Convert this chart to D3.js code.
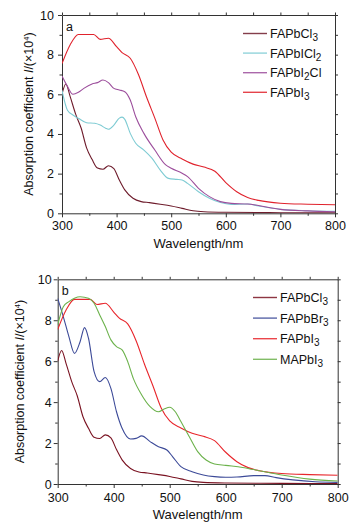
<!DOCTYPE html>
<html>
<head>
<meta charset="utf-8">
<script src="https://cdn.jsdelivr.net/npm/d3@7"></script>
<style>
  html, body { margin: 0; padding: 0; background: #fff; }
  svg { display: block; font-family: "Liberation Sans", Arial, sans-serif; }
</style>
</head>
<body>
<div id="chart"></div>
<script>
// absorption spectra, [wavelength nm, coefficient ×10^4]
const xTicks = [300, 400, 500, 600, 700, 800];
const yTicks = [0, 2, 4, 6, 8, 10];

const FAPbCl3 = [[300,6.0],[307,6.52],[315,5.88],[325,5.0],[335,4.3],[345,3.3],[355,2.72],[365,2.28],[375,2.22],[385,2.4],[395,2.25],[405,1.68],[415,1.18],[430,0.76],[445,0.59],[460,0.54],[480,0.46],[500,0.37],[520,0.25],[540,0.13],[560,0.08],[600,0.05],[700,0.03],[800,0.02]];
const FAPbICl2 = [[300,6.2],[310,5.2],[320,4.96],[330,4.79],[345,4.57],[360,4.54],[370,4.45],[380,4.29],[385,4.24],[395,4.45],[405,4.8],[410,4.85],[415,4.74],[425,4.03],[435,3.53],[450,3.19],[465,2.77],[480,2.18],[495,1.76],[510,1.71],[520,1.68],[530,1.51],[550,1.09],[570,0.76],[590,0.54],[610,0.45],[640,0.47],[660,0.37],[700,0.2],[750,0.13],[800,0.1]];
const FAPbI2Cl = [[300,6.92],[310,6.4],[320,6.0],[330,6.1],[340,6.3],[355,6.52],[365,6.59],[375,6.72],[385,6.59],[395,6.3],[405,6.22],[415,6.13],[425,5.71],[435,4.87],[450,4.03],[470,3.19],[490,2.44],[500,2.27],[520,2.02],[530,1.85],[550,1.26],[570,0.84],[590,0.59],[610,0.5],[640,0.47],[660,0.39],[700,0.2],[750,0.12],[800,0.08]];
const FAPbI3 = [[300,7.55],[315,8.5],[330,9.02],[345,9.02],[358,9.02],[370,8.77],[385,8.83],[400,8.4],[410,8.1],[425,7.82],[440,7.0],[455,5.85],[470,4.8],[485,3.7],[500,3.08],[520,2.74],[540,2.48],[560,2.33],[580,2.12],[600,1.55],[620,1.09],[640,0.8],[660,0.65],[700,0.51],[750,0.46],[800,0.43]];
const FAPbBr3 = [[300,9.07],[310,8.18],[320,7.2],[330,6.38],[340,6.95],[348,7.64],[355,7.12],[365,5.49],[375,5.0],[385,5.2],[395,4.67],[405,3.53],[415,2.72],[430,2.2],[440,2.23],[450,2.35],[465,2.07],[480,1.82],[495,1.66],[505,1.34],[520,0.85],[540,0.6],[560,0.44],[580,0.36],[600,0.33],[620,0.34],[650,0.41],[670,0.41],[690,0.31],[720,0.2],[760,0.11],[800,0.08]];
const MAPbI3 = [[300,7.77],[310,8.66],[320,8.91],[340,9.15],[355,9.07],[365,8.83],[375,8.26],[385,7.69],[395,7.04],[405,6.71],[415,6.55],[425,5.98],[435,5.16],[450,4.35],[465,3.78],[480,3.53],[490,3.66],[500,3.75],[510,3.53],[520,3.05],[535,2.31],[550,1.58],[565,1.17],[580,0.98],[600,0.91],[630,0.81],[660,0.65],[700,0.44],[750,0.24],[800,0.15]];

const panelA = [
  { name: "FAPbCl_3",  data: FAPbCl3,  color: "#6e1c2c" },
  { name: "FAPbICl_2", data: FAPbICl2, color: "#7ecbd3" },
  { name: "FAPbI_2Cl", data: FAPbI2Cl, color: "#9c4e9c" },
  { name: "FAPbI_3",   data: FAPbI3,   color: "#e0222c" }
];
const panelB = [
  { name: "FAPbCl_3", data: FAPbCl3, color: "#7a1322" },
  { name: "FAPbBr_3", data: FAPbBr3, color: "#3c4a98" },
  { name: "FAPbI_3",  data: FAPbI3,  color: "#e8262c" },
  { name: "MAPbI_3",  data: MAPbI3,  color: "#6cb24c" }
];

const W = 361, H = 531;
const svg = d3.select("#chart").append("svg").attr("width", W).attr("height", H);
svg.append("rect").attr("width", W).attr("height", H).attr("fill", "#fff");

// label text with "_2" style subscripts
function richLabel(sel, str){
  str.split(/(_\d)/).filter(s => s).forEach(part => {
    if (part[0] === "_"){
      sel.append("tspan").attr("baseline-shift", "-28%").attr("font-size", "0.8em").text(part.slice(1));
    } else {
      sel.append("tspan").text(part);
    }
  });
}

function drawPanel(p){
  const x = d3.scaleLinear().domain([300, 800]).range([p.left, p.right]);
  const y = d3.scaleLinear().domain([0, 10]).range([p.bottom, p.top]);
  const g = svg.append("g");
  const axisCol = "#333";

  // minor ticks
  const minorX = d3.range(350, 800, 100);
  const minorY = d3.range(1, 10, 2);
  const styleAx = a => a.call(s => s.select(".domain").attr("stroke", axisCol))
                        .call(s => s.selectAll(".tick line").attr("stroke", axisCol))
                        .call(s => s.selectAll(".tick text").attr("fill", "#111")
                                    .attr("font-size", 12.5).attr("font-family", "Liberation Sans, Arial, sans-serif"));

  g.append("g").attr("transform", `translate(0,${p.bottom})`)
    .call(d3.axisBottom(x).tickValues(xTicks).tickSize(4).tickSizeOuter(0).tickPadding(p.xpad))
    .call(styleAx);
  g.append("g").attr("transform", `translate(0,${p.bottom})`)
    .call(d3.axisBottom(x).tickValues(minorX).tickSize(2.5).tickSizeOuter(0).tickFormat(""))
    .call(styleAx).call(s => s.select(".domain").remove());
  g.append("g").attr("transform", `translate(0,${p.top})`)
    .call(d3.axisTop(x).tickValues(xTicks.concat(minorX)).tickSize(2.5).tickSizeOuter(0).tickFormat(""))
    .call(styleAx);

  g.append("g").attr("transform", `translate(${p.left},0)`)
    .call(d3.axisLeft(y).tickValues(yTicks).tickSize(4).tickSizeOuter(0).tickPadding(p.ypad))
    .call(styleAx);
  g.append("g").attr("transform", `translate(${p.left},0)`)
    .call(d3.axisLeft(y).tickValues(minorY).tickSize(2.5).tickSizeOuter(0).tickFormat(""))
    .call(styleAx).call(s => s.select(".domain").remove());
  g.append("g").attr("transform", `translate(${p.right},0)`)
    .call(d3.axisRight(y).tickValues(yTicks.concat(minorY)).tickSize(3).tickSizeOuter(0).tickFormat(""))
    .call(styleAx);

  // curves
  const line = d3.line()
    .x(d => x(d[0]))
    .y(d => y(d[1]))
    .curve(d3.curveMonotoneX);
  const clipId = "clip" + p.tag;
  g.append("clipPath").attr("id", clipId).append("rect")
    .attr("x", p.left).attr("y", p.top).attr("width", p.right - p.left).attr("height", p.bottom - p.top);
  p.series.forEach(s => {
    g.append("path")
      .datum(s.data)
      .attr("clip-path", `url(#${clipId})`)
      .attr("fill", "none")
      .attr("stroke", s.color)
      .attr("stroke-width", 1.1)
      .attr("d", line);
  });

  // panel letter
  g.append("text").attr("x", p.left + 4).attr("y", p.top + 16)
    .attr("font-size", 12.5).attr("fill", "#111").text(p.tag);

  // legend
  const leg = g.append("g").attr("transform", `translate(${p.legX},${p.legY})`);
  p.series.forEach((s, i) => {
    const row = leg.append("g").attr("transform", `translate(0,${i * p.legStep})`);
    row.append("line").attr("x1", 0).attr("x2", 24).attr("y1", 0).attr("y2", 0)
      .attr("stroke", s.color).attr("stroke-width", 1.4).attr("stroke-opacity", 0.85);
    const t = row.append("text").attr("x", 27).attr("y", 4.5)
      .attr("font-size", 12.5).attr("fill", "#111");
    richLabel(t, s.name);
  });

  // axis titles
  g.append("text").attr("x", (p.left + p.right) / 2).attr("y", p.bottom + 35)
    .attr("text-anchor", "middle").attr("font-size", 13).attr("fill", "#111")
    .text("Wavelength/nm");

  const yt = g.append("text")
    .attr("transform", `translate(${p.ytX},${(p.top + p.bottom) / 2}) rotate(-90)`)
    .attr("text-anchor", "middle").attr("font-size", 12.5).attr("fill", "#111");
  yt.append("tspan").text("Absorption coefficient ");
  yt.append("tspan").attr("font-style", "italic").text("I");
  yt.append("tspan").text("/(\u00d710");
  yt.append("tspan").attr("baseline-shift", "55%").attr("font-size", "0.6em").text("4");
  yt.append("tspan").text(")");
}

drawPanel({ tag: "a", series: panelA, left: 62, right: 335, top: 15, bottom: 213.3,
  xpad: 4, ypad: 4, legX: 243, legY: 33.5, legStep: 19.6, ytX: 33 });
drawPanel({ tag: "b", series: panelB, left: 57.7, right: 337.7, top: 279.3, bottom: 484,
  xpad: 5, ypad: 2, legX: 253, legY: 297.5, legStep: 20.6, ytX: 24 });
</script>
</body>
</html>
